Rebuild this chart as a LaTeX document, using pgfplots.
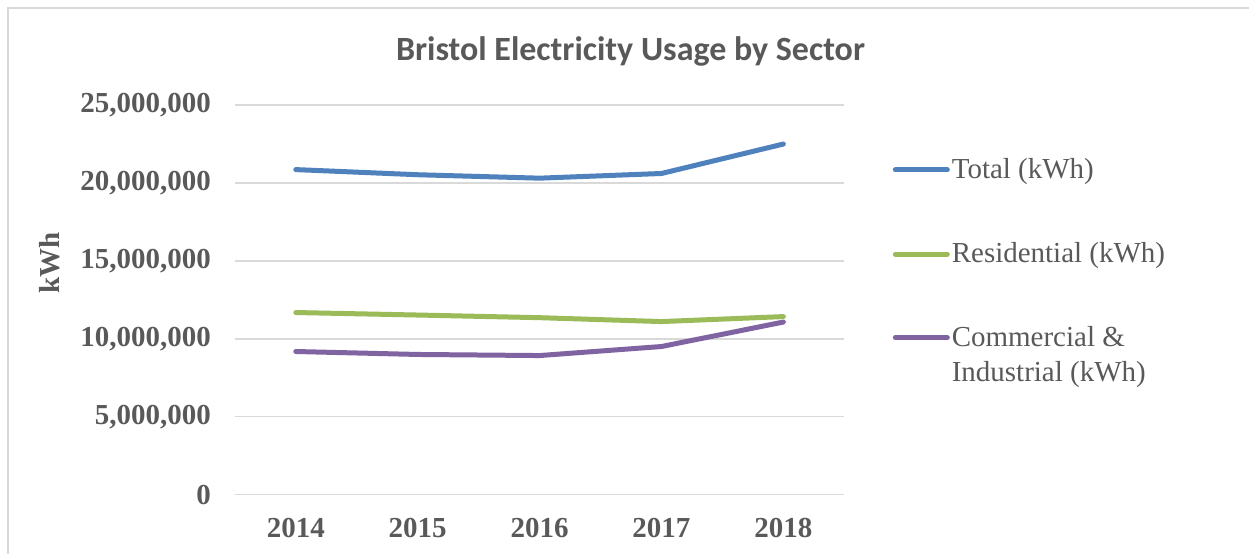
\documentclass[border=0pt]{standalone}
\usepackage{pgfplots}
\pgfplotsset{compat=1.18}
\usepackage{fontspec}
\setmainfont{Liberation Serif}
\newfontfamily\titlefont{Carlito}
\definecolor{txt}{HTML}{595959}
\definecolor{gridgray}{HTML}{D9D9D9}
\definecolor{cblue}{HTML}{4F81BD}
\definecolor{cgreen}{HTML}{9BBB59}
\definecolor{cpurple}{HTML}{8064A2}
\pgfplotsset{shiftedline/.style={legend image code/.code={\draw[##1] (0pt,9pt) -- (26pt,9pt);}}}
\begin{document}
\begin{tikzpicture}[x=0.5pt,y=0.5pt]
\fill[white] (0,0) rectangle (1250,554);
\draw[gridgray,line width=1pt] (8,0) -- (8,546) -- (1250,546);
\node[font=\titlefont\bfseries\fontsize{17}{20}\selectfont, text=txt] at (631,502) {Bristol Electricity Usage by Sector};
\begin{axis}[
  at={(117.5pt,29.5pt)}, anchor=south west,
  scale only axis, width=305pt, height=195pt,
  xmin=-0.5, xmax=4.5, ymin=0, ymax=25000000,
  xtick={0,1,2,3,4}, xticklabels={2014,2015,2016,2017,2018},
  ytick={0,5000000,10000000,15000000,20000000,25000000},
  yticklabels={0,{5,000,000},{10,000,000},{15,000,000},{20,000,000},{25,000,000}},
  scaled y ticks=false,
  axis line style={draw=none},
  axis x line*=bottom,
  x axis line style={draw=gridgray, line width=0.8pt},
  major tick length=0pt,
  xtick style={draw=none}, ytick style={draw=none},
  xmajorgrids=false,
  ymajorgrids, major grid style={draw=gridgray, line width=0.8pt},
  ticklabel style={font=\bfseries\fontsize{14.5}{17}\selectfont, text=txt},
  yticklabel style={xshift=-8.5pt},
  xticklabel style={yshift=-8.5pt},
  ylabel={kWh}, ylabel style={font=\bfseries\fontsize{14.5}{17}\selectfont, text=txt, at={(axis description cs:-0.303,0.595)}, anchor=center},
  legend style={at={(axis description cs:1.079,0.874)}, anchor=north west, draw=none, fill=none,
    font=\fontsize{14.5}{17.5}\selectfont, text=txt, row sep=26.5pt, inner sep=0pt,
    nodes={align=left, inner xsep=1pt}},
  legend cell align=left,
  legend image code/.code={\draw[#1] (0pt,0pt) -- (26pt,0pt);},
  every axis plot/.append style={line width=2.5pt, line join=round, line cap=round},
  clip=false
]
\addplot[cblue] coordinates {(0,20850000) (1,20520000) (2,20300000) (3,20600000) (4,22490000)};
\addlegendentry{Total (kWh)}
\addplot[cgreen] coordinates {(0,11680000) (1,11520000) (2,11350000) (3,11100000) (4,11420000)};
\addlegendentry{Residential (kWh)}
\addplot[cpurple, shiftedline] coordinates {(0,9180000) (1,8990000) (2,8920000) (3,9500000) (4,11070000)};
\addlegendentry{Commercial \&\\Industrial (kWh)}
\end{axis}
\end{tikzpicture}
\end{document}
